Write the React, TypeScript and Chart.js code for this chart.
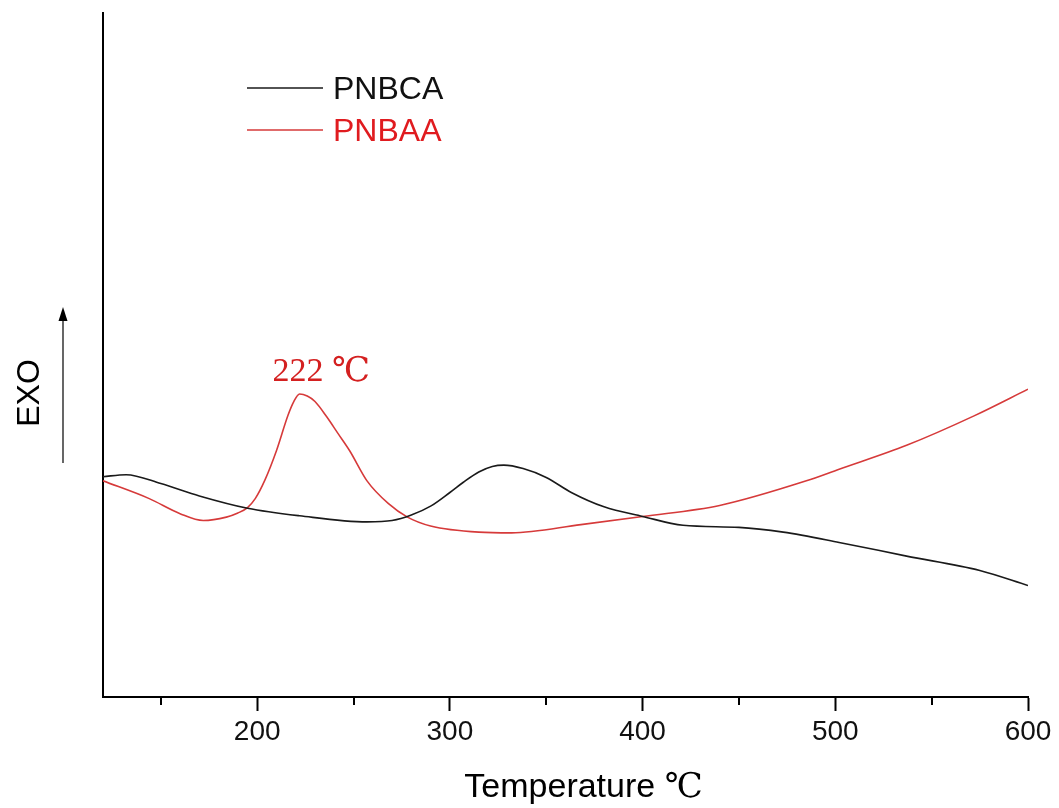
import { useEffect, useRef } from 'react';
import { Chart, registerables } from 'chart.js';

Chart.register(...registerables);

// DSC traces (heat flow, arbitrary units, exothermic up)
const seriesLabels = ['PNBCA', 'PNBAA'];

const temperaturePNBCA = [120, 132, 150, 170, 195, 222, 257, 270, 280, 290, 300, 307, 315, 322, 328, 338, 350, 363, 380, 400, 421, 450, 473, 502, 537, 575, 600];
const heatFlowPNBCA = [3.22, 3.25, 3.12, 2.94, 2.76, 2.65, 2.56, 2.58, 2.66, 2.79, 2.99, 3.14, 3.29, 3.37, 3.39, 3.34, 3.21, 2.99, 2.78, 2.64, 2.51, 2.48, 2.41, 2.26, 2.06, 1.85, 1.63];

const temperaturePNBAA = [120, 144, 160, 172, 184, 190, 195, 199, 204, 210, 216, 219, 222, 226, 230, 236, 242, 248, 257, 268, 278, 290, 315, 332, 368, 400, 440, 485, 502, 537, 572, 600];
const heatFlowPNBAA = [3.16, 2.90, 2.68, 2.58, 2.63, 2.69, 2.77, 2.90, 3.17, 3.60, 4.12, 4.32, 4.43, 4.40, 4.32, 4.10, 3.85, 3.60, 3.16, 2.83, 2.63, 2.50, 2.41, 2.40, 2.52, 2.64, 2.80, 3.16, 3.33, 3.68, 4.11, 4.50];

const xMajorTicks = [200, 300, 400, 500, 600];
const xMinorTicks = [150, 250, 350, 450, 550];

const PEAK_T = 222;

const SANS = '"Liberation Sans", Arial, sans-serif';
const SERIF = '"Liberation Serif", "DejaVu Serif", "Times New Roman", serif';

const lineColors = ['#1a1a1a', '#d63a3a'];
const legendTextColors = ['#111111', '#e01b1f'];

const decorPlugin = {
  id: 'dscDecor',
  afterDraw(chart: any) {
    const { ctx, chartArea, scales } = chart;
    const xs = scales.x;
    const ys = scales.y;
    ctx.save();

    // minor ticks on the temperature axis
    ctx.strokeStyle = '#000';
    ctx.lineWidth = 2;
    xMinorTicks.forEach((v) => {
      const px = Math.round(xs.getPixelForValue(v));
      ctx.beginPath();
      ctx.moveTo(px, chartArea.bottom);
      ctx.lineTo(px, chartArea.bottom + 8);
      ctx.stroke();
    });

    // legend
    chart.data.datasets.forEach((ds: any, i: number) => {
      const yy = 88 + i * 42;
      ctx.strokeStyle = ds.borderColor;
      ctx.lineWidth = 1.5;
      ctx.beginPath();
      ctx.moveTo(247, yy);
      ctx.lineTo(323, yy);
      ctx.stroke();
      ctx.fillStyle = legendTextColors[i];
      ctx.font = `32px ${SANS}`;
      ctx.textAlign = 'left';
      ctx.textBaseline = 'middle';
      ctx.fillText(ds.label, 333, yy + 2);
    });

    // EXO label with upward arrow
    ctx.fillStyle = '#000';
    ctx.save();
    ctx.translate(30, 393);
    ctx.rotate(-Math.PI / 2);
    ctx.font = `32px ${SANS}`;
    ctx.textAlign = 'center';
    ctx.textBaseline = 'middle';
    ctx.fillText('EXO', 0, 0);
    ctx.restore();

    ctx.strokeStyle = '#000';
    ctx.lineWidth = 1.2;
    ctx.beginPath();
    ctx.moveTo(63, 463);
    ctx.lineTo(63, 318);
    ctx.stroke();
    ctx.beginPath();
    ctx.moveTo(63, 307);
    ctx.lineTo(58.5, 321);
    ctx.lineTo(67.5, 321);
    ctx.closePath();
    ctx.fill();

    // x axis title: sans word plus serif degree sign
    ctx.textBaseline = 'alphabetic';
    ctx.textAlign = 'left';
    ctx.fillStyle = '#000';
    ctx.font = `34px ${SANS}`;
    const word = 'Temperature';
    const wordW = ctx.measureText(word + ' ').width;
    ctx.font = `34px ${SERIF}`;
    const unitW = ctx.measureText('℃').width;
    const cx = (chartArea.left + chartArea.right) / 2 + 18;
    const startX = cx - (wordW + unitW) / 2;
    ctx.font = `34px ${SANS}`;
    ctx.fillText(word, startX, 797);
    ctx.font = `34px ${SERIF}`;
    ctx.fillText('℃', startX + wordW, 797);

    // peak annotation
    const idx = temperaturePNBAA.indexOf(PEAK_T);
    const peakX = xs.getPixelForValue(PEAK_T);
    const peakY = ys.getPixelForValue(heatFlowPNBAA[idx]);
    ctx.fillStyle = '#d42020';
    ctx.font = `34px ${SERIF}`;
    ctx.textAlign = 'left';
    ctx.fillText(`${PEAK_T} ℃`, peakX - 27, peakY - 13);

    ctx.restore();
  },
};

export default function App() {
  const canvasRef = useRef<HTMLCanvasElement | null>(null);

  useEffect(() => {
    const canvas = canvasRef.current;
    if (!canvas) return;

    const toPoints = (xs: number[], ys: number[]) => xs.map((x, i) => ({ x, y: ys[i] }));

    const chart = new Chart(canvas, {
      type: 'line',
      data: {
        datasets: [
          {
            label: seriesLabels[0],
            data: toPoints(temperaturePNBCA, heatFlowPNBCA),
            borderColor: lineColors[0],
            borderWidth: 1.6,
            pointRadius: 0,
            cubicInterpolationMode: 'monotone',
            fill: false,
          },
          {
            label: seriesLabels[1],
            data: toPoints(temperaturePNBAA, heatFlowPNBAA),
            borderColor: lineColors[1],
            borderWidth: 1.6,
            pointRadius: 0,
            cubicInterpolationMode: 'monotone',
            fill: false,
          },
        ],
      },
      options: {
        animation: false,
        responsive: false,
        layout: { padding: { top: 13, right: 31, left: 0, bottom: 0 } },
        plugins: {
          legend: { display: false },
          tooltip: { enabled: false },
        },
        scales: {
          x: {
            type: 'linear',
            min: 120,
            max: 600,
            afterBuildTicks: (s: any) => {
              s.ticks = xMajorTicks.map((v) => ({ value: v }));
            },
            afterFit: (s: any) => {
              s.height = 111;
            },
            grid: {
              display: true,
              drawOnChartArea: false,
              drawTicks: true,
              tickLength: 14,
              tickWidth: 2,
              tickColor: '#000',
            },
            border: { display: true, color: '#000', width: 2 },
            ticks: {
              color: '#111',
              font: { family: SANS, size: 28 },
              padding: 4,
              maxRotation: 0,
              autoSkip: false,
            },
          },
          y: {
            type: 'linear',
            min: 0,
            max: 10,
            afterFit: (s: any) => {
              s.width = 103;
            },
            grid: { display: false },
            border: { display: true, color: '#000', width: 2 },
            ticks: { display: false },
          },
        },
      },
      plugins: [decorPlugin],
    } as any);

    return () => chart.destroy();
  }, []);

  return (
    <div style={{ position: 'fixed', left: 0, top: 0, width: 1059, height: 808, background: '#fff' }}>
      <canvas ref={canvasRef} width={1059} height={808} style={{ width: 1059, height: 808, display: 'block' }} />
    </div>
  );
}
